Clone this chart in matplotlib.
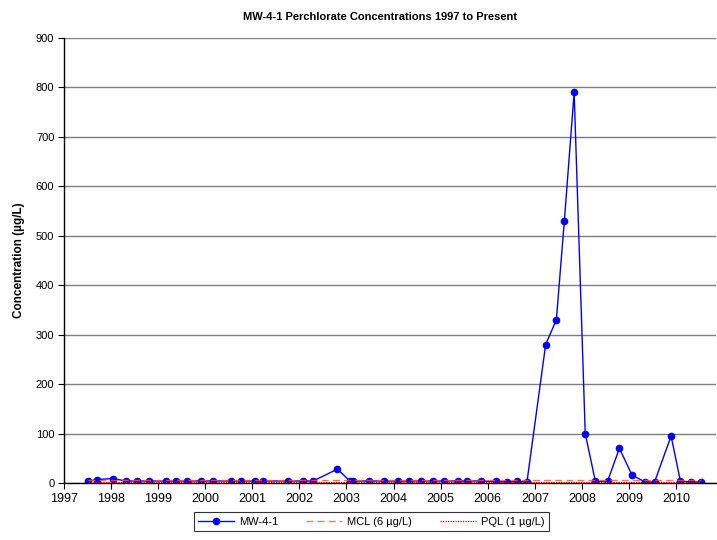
"""MW-4-1 perchlorate concentrations, 1997 to present."""

import matplotlib

matplotlib.use("Agg")
import matplotlib.dates as mdates
import matplotlib.pyplot as plt
import pandas as pd

plt.rcParams["font.family"] = ["Liberation Sans", "DejaVu Sans"]

# Sampling dates and results for well MW-4-1 (ug/L)
SAMPLE_DATES = [
    "1997-07-08", "1997-09-16", "1998-01-18", "1998-04-23", "1998-07-23",
    "1998-10-22", "1999-03-01", "1999-05-22", "1999-08-15", "1999-12-01",
    "2000-03-04", "2000-07-17", "2000-10-03", "2001-01-20", "2001-03-28",
    "2001-10-08", "2002-01-25", "2002-04-17", "2002-10-23", "2003-01-27",
    "2003-02-22", "2003-06-26", "2003-10-16", "2004-02-08", "2004-05-01",
    "2004-07-31", "2004-10-30", "2005-01-28", "2005-05-12", "2005-07-24",
    "2005-11-08", "2006-03-06", "2006-05-30", "2006-08-16", "2006-11-01",
    "2007-03-26", "2007-06-17", "2007-08-18", "2007-11-02", "2008-01-27",
    "2008-04-15", "2008-07-19", "2008-10-18", "2009-01-24", "2009-05-05",
    "2009-07-18", "2009-11-23", "2010-02-03", "2010-04-27", "2010-07-14",
]
MW_4_1 = [
    4, 7, 9, 4, 4,
    4, 4, 4, 4, 4,
    4, 4, 4, 4, 4,
    4, 4, 4, 28, 4,
    4, 4, 4, 4, 4,
    4, 4, 4, 4, 4,
    4, 3, 2, 3, 2,
    280, 330, 530, 790, 100,
    3, 4, 70, 16, 2,
    2, 95, 4, 2, 2,
]
MCL = 6  # ug/L
PQL = 1  # ug/L
Y_TICKS = [0, 100, 200, 300, 400, 500, 600, 700, 800, 900]
X_START, X_END = "1997-01-01", "2010-11-03"

dates = pd.to_datetime(SAMPLE_DATES)

fig = plt.figure(figsize=(7.17, 5.4), dpi=100)
ax = fig.add_axes([0.0893, 0.1056, 0.9087, 0.824])

ax.plot(dates, MW_4_1, color="#0000FF", linewidth=1.0, marker="o",
        markersize=4.5, label="MW-4-1", zorder=3)
ax.plot(dates, [MCL] * len(dates), color="#FF5050", linewidth=1.0,
        linestyle=(0, (5, 3)), alpha=0.8, label="MCL (6 µg/L)", zorder=4)
ax.plot(dates, [PQL] * len(dates), color="#FF0000", linewidth=0.9,
        linestyle=(0, (1, 1)), label="PQL (1 µg/L)", zorder=4)

ax.set_ylim(Y_TICKS[0], Y_TICKS[-1])
ax.set_yticks(Y_TICKS)
ax.set_xlim(pd.Timestamp(X_START), pd.Timestamp(X_END))
ax.xaxis.set_major_locator(mdates.YearLocator())
ax.xaxis.set_major_formatter(mdates.DateFormatter("%Y"))

ax.grid(True, axis="y", color="#7f7f7f", linewidth=1.0)
ax.set_axisbelow(True)
for side in ("top", "right"):
    ax.spines[side].set_visible(False)
for side in ("left", "bottom"):
    ax.spines[side].set_color("black")
    ax.spines[side].set_linewidth(1.0)
ax.spines["bottom"].set_zorder(5)

ax.tick_params(axis="x", direction="out", length=4, width=0.8,
               labelsize=9, pad=3)
ax.tick_params(axis="y", direction="out", length=4, width=0.8,
               labelsize=8, pad=3)

ax.set_ylabel("Concentration (µg/L)", fontsize=8.5, fontweight="bold",
              labelpad=8)
fig.text(0.53, 0.969, "MW-4-1 Perchlorate Concentrations 1997 to Present",
         ha="center", va="center", fontsize=8, fontweight="bold")

leg = fig.legend(loc="center", bbox_to_anchor=(0.518, 0.0335), ncol=3,
                 fontsize=8, frameon=True, fancybox=False, borderpad=0.4,
                 handlelength=3.2, columnspacing=2.5, handletextpad=0.5)
leg.get_frame().set_edgecolor("black")
leg.get_frame().set_linewidth(0.8)

fig.savefig("out.png", dpi=100)
plt.close(fig)
